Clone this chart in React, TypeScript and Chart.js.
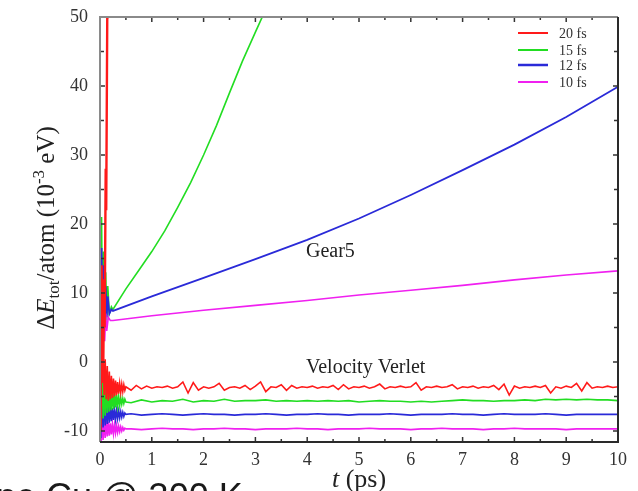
import React, { useEffect, useRef } from "react";
import { Chart, registerables } from "chart.js";

Chart.register(...registerables);

// ---------- data ----------
const seriesLabels = ["20 fs", "15 fs", "12 fs", "10 fs"];
const seriesColors = ["#ff1a1a", "#22dd22", "#2a2ad8", "#f020f0"];

const xTicks = [0, 1, 2, 3, 4, 5, 6, 7, 8, 9, 10];
const yTicks = [-10, 0, 10, 20, 30, 40, 50];

// Velocity Verlet: early transient (t = 0 .. 0.5 ps)
const tEarly = [0, 0.02, 0.04, 0.06, 0.08, 0.1, 0.12, 0.14, 0.16, 0.18, 0.2, 0.22, 0.24, 0.26, 0.28, 0.3, 0.32, 0.34, 0.36, 0.38, 0.4, 0.42, 0.44, 0.46, 0.48, 0.5];
const vvRedEarly = [0, 2.5, -3, 1.2, -4.8, 0.4, -5.4, -0.6, -5.6, -1.4, -5.4, -2.0, -5.2, -2.4, -5.0, -2.7, -4.8, -2.9, -4.6, -3.1, -4.4, -3.2, -4.3, -3.3, -4.1, -3.6];
const vvGreenEarly = [0, -9, 1.5, -8.2, -2.5, -7.8, -3.2, -7.4, -3.6, -7.2, -4.0, -7.0, -4.3, -6.8, -4.6, -6.6, -4.8, -6.4, -5.0, -6.3, -5.2, -6.1, -5.3, -6.0, -5.4, -5.8];
const vvBlueEarly = [0, -11, -4, -9.5, -5.5, -9.2, -6.0, -9.0, -6.3, -8.8, -6.5, -8.6, -6.7, -8.4, -6.9, -8.3, -7.0, -8.2, -7.1, -8.1, -7.2, -8.0, -7.3, -7.9, -7.4, -7.6];
const vvMagEarly = [0, -12.5, -7, -11.3, -8.3, -11.0, -8.5, -10.8, -8.7, -10.7, -8.9, -10.5, -9.0, -10.4, -9.1, -10.3, -9.2, -10.2, -9.3, -10.1, -9.4, -10.0, -9.5, -9.9, -9.6, -9.7];

// Velocity Verlet 20 fs: t = 0.6 .. 10 ps (0.1 step)
const tFine = [0.6, 0.7, 0.8, 0.9, 1.0, 1.1, 1.2, 1.3, 1.4, 1.5, 1.6, 1.7, 1.8, 1.9, 2.0, 2.1, 2.2, 2.3, 2.4, 2.5, 2.6, 2.7, 2.8, 2.9, 3.0, 3.1, 3.2, 3.3, 3.4, 3.5, 3.6, 3.7, 3.8, 3.9, 4.0, 4.1, 4.2, 4.3, 4.4, 4.5, 4.6, 4.7, 4.8, 4.9, 5.0, 5.1, 5.2, 5.3, 5.4, 5.5, 5.6, 5.7, 5.8, 5.9, 6.0, 6.1, 6.2, 6.3, 6.4, 6.5, 6.6, 6.7, 6.8, 6.9, 7.0, 7.1, 7.2, 7.3, 7.4, 7.5, 7.6, 7.7, 7.8, 7.9, 8.0, 8.1, 8.2, 8.3, 8.4, 8.5, 8.6, 8.7, 8.8, 8.9, 9.0, 9.1, 9.2, 9.3, 9.4, 9.5, 9.6, 9.7, 9.8, 9.9, 10.0];
const vvRedLate = [-4.1, -3.4, -3.9, -3.5, -3.8, -3.6, -3.7, -3.5, -3.8, -3.6, -2.9, -4.5, -3.0, -4.1, -3.6, -3.8, -3.6, -3.1, -4.1, -3.7, -3.6, -3.8, -3.4, -4.0, -3.5, -2.9, -4.3, -3.6, -3.7, -3.3, -4.1, -3.4, -3.8, -3.6, -3.7, -3.5, -3.8, -3.6, -3.7, -3.4, -4.0, -3.3, -3.9, -3.6, -3.7, -3.5, -3.8, -3.6, -3.2, -3.9, -3.6, -3.7, -3.5, -3.7, -3.6, -3.0, -4.1, -3.6, -3.7, -3.5, -3.7, -3.6, -3.3, -3.9, -3.6, -3.7, -3.5, -3.8, -3.6, -3.7, -3.4, -4.0, -3.2, -4.8, -3.5, -3.8, -3.6, -3.7, -3.5, -3.7, -3.4, -4.5, -3.6, -3.8, -3.5, -3.7, -3.1, -4.2, -3.0, -3.8, -3.6, -3.7, -3.5, -3.7, -3.6];

// Velocity Verlet 15/12/10 fs: t = 0.6 .. 10 ps (0.2 step)
const tCoarse = [0.6, 0.8, 1.0, 1.2, 1.4, 1.6, 1.8, 2.0, 2.2, 2.4, 2.6, 2.8, 3.0, 3.2, 3.4, 3.6, 3.8, 4.0, 4.2, 4.4, 4.6, 4.8, 5.0, 5.2, 5.4, 5.6, 5.8, 6.0, 6.2, 6.4, 6.6, 6.8, 7.0, 7.2, 7.4, 7.6, 7.8, 8.0, 8.2, 8.4, 8.6, 8.8, 9.0, 9.2, 9.4, 9.6, 9.8, 10.0];
const vvGreenLate = [-5.9, -5.5, -5.8, -5.6, -5.7, -5.4, -5.8, -5.6, -5.7, -5.4, -5.7, -5.6, -5.6, -5.5, -5.7, -5.6, -5.7, -5.6, -5.7, -5.6, -5.7, -5.6, -5.8, -5.7, -5.6, -5.7, -5.7, -5.8, -5.7, -5.8, -5.7, -5.6, -5.5, -5.6, -5.6, -5.7, -5.6, -5.6, -5.5, -5.6, -5.4, -5.5, -5.4, -5.5, -5.4, -5.5, -5.5, -5.6];
const vvBlueLate = [-7.5, -7.7, -7.6, -7.5, -7.6, -7.7, -7.6, -7.5, -7.6, -7.6, -7.7, -7.6, -7.6, -7.5, -7.6, -7.7, -7.6, -7.6, -7.5, -7.6, -7.6, -7.7, -7.6, -7.6, -7.6, -7.5, -7.6, -7.7, -7.6, -7.6, -7.6, -7.5, -7.6, -7.6, -7.7, -7.6, -7.5, -7.6, -7.6, -7.6, -7.5, -7.6, -7.7, -7.6, -7.6, -7.6, -7.6, -7.6];
const vvMagLate = [-9.7, -9.8, -9.7, -9.6, -9.7, -9.7, -9.8, -9.7, -9.7, -9.6, -9.7, -9.7, -9.8, -9.7, -9.7, -9.7, -9.6, -9.7, -9.7, -9.8, -9.7, -9.7, -9.7, -9.6, -9.7, -9.7, -9.7, -9.8, -9.7, -9.7, -9.6, -9.7, -9.7, -9.7, -9.8, -9.7, -9.7, -9.6, -9.7, -9.7, -9.7, -9.7, -9.8, -9.7, -9.7, -9.7, -9.7, -9.7];

// Gear5
const tRedG5 = [0, 0.01, 0.03, 0.05, 0.06, 0.08, 0.09, 0.11, 0.12, 0.14, 0.15];
const redG5 = [0, -10, 14, 2, -3, 12, 5, 28, 22, 50, 62];
const tGreenG5 = [0, 0.01, 0.03, 0.05, 0.07, 0.09, 0.11, 0.13, 0.15, 0.18, 0.22, 0.25, 0.5, 0.75, 1, 1.25, 1.5, 1.75, 2, 2.25, 2.5, 2.75, 3, 3.3];
const greenG5 = [0, -4, 21, 3, 16, 5, 13, 6, 11, 7, 8, 7.6, 10.6, 13.3, 16.0, 19.0, 22.4, 26.0, 30.0, 34.3, 39.0, 43.6, 47.8, 52.8];
const tBlueG5 = [0, 0.01, 0.03, 0.05, 0.07, 0.09, 0.11, 0.13, 0.15, 0.18, 0.22, 0.25, 1, 2, 3, 4, 5, 6, 7, 8, 9, 10];
const blueG5 = [0, -6, 16.5, 4, 14, 6, 11, 6.5, 9.5, 7, 7.6, 7.4, 9.5, 12.2, 14.9, 17.7, 20.8, 24.2, 27.8, 31.5, 35.5, 39.9];
const tMagG5 = [0, 0.01, 0.03, 0.05, 0.07, 0.09, 0.11, 0.13, 0.16, 0.2, 0.25, 1, 2, 3, 4, 5, 6, 7, 8, 9, 10];
const magG5 = [0, -11, 8, -2, 7.5, 3, 7, 4.5, 6.5, 6, 6.0, 6.7, 7.5, 8.2, 8.9, 9.7, 10.4, 11.1, 11.9, 12.6, 13.2];

// ---------- helpers ----------
const pts = (xs: number[], ys: number[]) => xs.map((x, i) => ({ x, y: ys[i] }));
const SERIF = "'Liberation Serif', 'Times New Roman', serif";

type Seg = { text: string; size: number; italic?: boolean; dy?: number };

function drawRich(ctx: CanvasRenderingContext2D, segs: Seg[], x: number, y: number, rotate: boolean, align: "center" | "left") {
  ctx.save();
  ctx.translate(x, y);
  if (rotate) ctx.rotate(-Math.PI / 2);
  ctx.textBaseline = "alphabetic";
  ctx.textAlign = "left";
  const fontOf = (s: Seg) => `${s.italic ? "italic " : ""}${s.size}px ${SERIF}`;
  let total = 0;
  const widths = segs.map((s) => {
    ctx.font = fontOf(s);
    const w = ctx.measureText(s.text).width;
    total += w;
    return w;
  });
  let cx = align === "center" ? -total / 2 : 0;
  segs.forEach((s, i) => {
    ctx.font = fontOf(s);
    ctx.fillText(s.text, cx, s.dy || 0);
    cx += widths[i];
  });
  ctx.restore();
}

const decorPlugin = {
  id: "decor",
  afterDatasetsDraw(chart: any) {
    const ctx: CanvasRenderingContext2D = chart.ctx;
    const { left, right, top, bottom } = chart.chartArea;
    const xs = chart.scales.x;
    const ys = chart.scales.y;
    ctx.save();

    // ticks (inward, on all four sides)
    ctx.strokeStyle = "#333";
    ctx.lineWidth = 1.5;
    ctx.beginPath();
    for (let v = 0; v <= 10.001; v += 0.5) {
      const px = xs.getPixelForValue(v);
      const len = Math.abs(v - Math.round(v)) < 1e-6 ? 5 : 3;
      ctx.moveTo(px, bottom);
      ctx.lineTo(px, bottom - len);
      ctx.moveTo(px, top);
      ctx.lineTo(px, top + len);
    }
    for (let v = -10; v <= 50; v += 5) {
      const py = ys.getPixelForValue(v);
      const len = v % 10 === 0 ? 5 : 4;
      ctx.moveTo(left, py);
      ctx.lineTo(left + len, py);
      ctx.moveTo(right, py);
      ctx.lineTo(right - len, py);
    }
    ctx.stroke();

    // frame
    ctx.lineWidth = 2;
    ctx.strokeStyle = "#8a8a8a";
    ctx.beginPath();
    ctx.moveTo(left, bottom);
    ctx.lineTo(left, top);
    ctx.lineTo(right, top);
    ctx.stroke();
    ctx.strokeStyle = "#2a2a2a";
    ctx.beginPath();
    ctx.moveTo(right, top);
    ctx.lineTo(right, bottom);
    ctx.lineTo(left, bottom);
    ctx.stroke();

    // legend
    const rows = [33, 50, 65, 82];
    ctx.font = `14px ${SERIF}`;
    ctx.textBaseline = "middle";
    ctx.textAlign = "left";
    seriesLabels.forEach((lab, i) => {
      ctx.strokeStyle = seriesColors[i];
      ctx.lineWidth = i === 2 ? 2.5 : 2;
      ctx.beginPath();
      ctx.moveTo(518, rows[i]);
      ctx.lineTo(548, rows[i]);
      ctx.stroke();
      ctx.fillStyle = "#333";
      ctx.fillText(lab, 559, rows[i] + 1);
    });

    // annotations
    ctx.fillStyle = "#222";
    ctx.font = `20px ${SERIF}`;
    ctx.textBaseline = "alphabetic";
    ctx.fillText("Gear5", 306, 257);
    ctx.fillText("Velocity Verlet", 306, 373);

    // axis titles
    drawRich(
      ctx,
      [
        { text: "\u0394", size: 25 },
        { text: "E", size: 25, italic: true },
        { text: "tot", size: 17, dy: 5 },
        { text: "/atom (10", size: 25 },
        { text: "-3", size: 17, dy: -10 },
        { text: " eV)", size: 25 },
      ],
      54,
      228,
      true,
      "center"
    );
    drawRich(
      ctx,
      [
        { text: "t", size: 26, italic: true },
        { text: " (ps)", size: 26 },
      ],
      359,
      487,
      false,
      "center"
    );

    // clipped caption fragment at the bottom edge
    ctx.fillStyle = "#1a1a1a";
    ctx.font = "36px 'Liberation Sans', Arial, sans-serif";
    ctx.textAlign = "left";
    ctx.textBaseline = "alphabetic";
    ctx.fillText("ne Cu @ 300 K", -4, 509);

    ctx.restore();
  },
};

export default function App() {
  const ref = useRef<HTMLCanvasElement | null>(null);

  useEffect(() => {
    if (!ref.current) return;
    const lw = 1.6;
    const mk = (data: any[], color: string, width = lw) => ({
      data,
      borderColor: color,
      backgroundColor: color,
      borderWidth: width,
      pointRadius: 0,
      fill: false,
      tension: 0,
    });
    const datasets = [
      mk(pts(tRedG5, redG5), seriesColors[0], 2.4),
      mk(pts(tMagG5, magG5), seriesColors[3]),
      mk(pts(tBlueG5, blueG5), seriesColors[2], 1.8),
      mk(pts(tGreenG5, greenG5), seriesColors[1]),
      mk(pts(tEarly, vvRedEarly).concat(pts(tFine, vvRedLate)), seriesColors[0]),
      mk(pts(tEarly, vvGreenEarly).concat(pts(tCoarse, vvGreenLate)), seriesColors[1]),
      mk(pts(tEarly, vvBlueEarly).concat(pts(tCoarse, vvBlueLate)), seriesColors[2]),
      mk(pts(tEarly, vvMagEarly).concat(pts(tCoarse, vvMagLate)), seriesColors[3]),
    ];
    const tickFont = { family: SERIF, size: 18 };
    const chart = new Chart(ref.current, {
      type: "line",
      data: { datasets },
      options: {
        responsive: false,
        animation: false,
        layout: { padding: { left: 0, right: 20, top: 17, bottom: 0 } },
        plugins: { legend: { display: false }, tooltip: { enabled: false } },
        scales: {
          x: {
            type: "linear",
            min: 0,
            max: 10,
            afterFit: (s: any) => {
              s.height = 49;
              s.paddingLeft = 0;
              s.paddingRight = 0;
            },
            afterBuildTicks: (s: any) => {
              s.ticks = xTicks.map((v) => ({ value: v }));
            },
            grid: { display: false, drawTicks: false },
            border: { display: false },
            ticks: { padding: 7, font: tickFont, color: "#333", maxRotation: 0, autoSkip: false },
          },
          y: {
            type: "linear",
            min: -11.6,
            max: 50,
            afterFit: (s: any) => {
              s.width = 100;
              s.paddingTop = 0;
              s.paddingBottom = 0;
            },
            afterBuildTicks: (s: any) => {
              s.ticks = yTicks.map((v) => ({ value: v }));
            },
            grid: { display: false, drawTicks: false },
            border: { display: false },
            ticks: { padding: 12, font: tickFont, color: "#333", autoSkip: false },
          },
        },
      } as any,
      plugins: [decorPlugin],
    });
    return () => chart.destroy();
  }, []);

  return (
    <div style={{ position: "fixed", left: 0, top: 0, width: 638, height: 491, background: "#fff", overflow: "hidden" }}>
      <canvas ref={ref} width={638} height={491} style={{ display: "block", width: 638, height: 491 }} />
    </div>
  );
}
